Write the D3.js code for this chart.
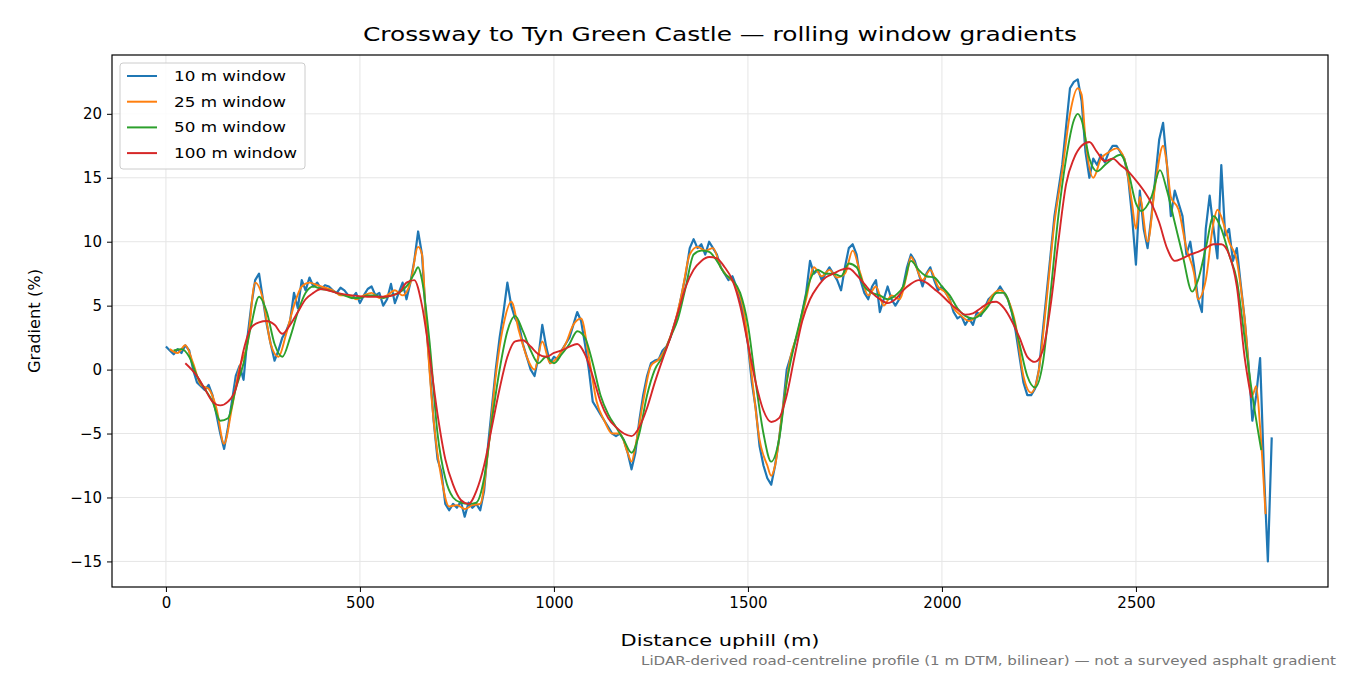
<!DOCTYPE html>
<html><head><meta charset="utf-8">
<script src="https://cdn.jsdelivr.net/npm/d3@7"></script>
<style>body{margin:0;background:#fff}text{font-family:"DejaVu Sans",sans-serif}</style>
</head><body><svg id="c" width="1350" height="675"></svg>
<script>
const xTicks=[0,500,1000,1500,2000,2500];
const yTicks=[-15,-10,-5,0,5,10,15,20];
const seriesNames=["10 m window","25 m window","50 m window","100 m window"];
const colors=["#1f77b4","#ff7f0e","#2ca02c","#d62728"];

// 10 m window: 0..2850 step 10
const w10Start=0, w10Step=10;
const w10=[1.8,1.5,1.2,1.6,1.3,1.9,1.5,0,-1.0,-1.3,-1.6,-1.2,-2.0,-3.5,-5.0,-6.2,-4.5,-2.5,-0.5,0.3,
-0.8,2.5,5,7.0,7.5,5.5,3.5,2.0,0.7,1.5,2.5,3.0,3.8,6.0,4.8,7.0,6.2,7.2,6.5,6.8,
6.3,6.6,6.5,6.2,6.0,6.4,6.2,5.8,5.6,6.0,5.2,5.8,6.3,6.5,5.8,6.0,5.0,5.5,6.7,5.2,
6.0,6.8,5.5,6.8,8.5,10.8,9.0,4.0,0,-4,-7,-8,-10.5,-11.0,-10.5,-10.8,-10.3,-11.5,-10.4,-10.8,
-10.5,-11.0,-9.5,-6,-3,0,2.5,4.5,6.8,5,4.0,3.5,2.0,1.0,0.0,-0.5,1.0,3.5,1.8,0.5,
1.0,0.8,1.5,2.0,2.5,3.5,4.5,3.8,2.0,0,-2.5,-3.0,-3.5,-4.0,-4.5,-5.0,-5.2,-5.0,-5.5,-6.5,
-7.8,-6.5,-4,-2,-0.5,0.5,0.7,0.8,1.5,1.8,2.5,3.5,4.5,6.0,7.5,9.5,10.2,9.5,9.8,9.0,
10.0,9.5,9.0,8.0,7.5,7.0,7.3,6.5,5.5,4,2,-1,-3,-6,-7.5,-8.5,-9.0,-7.5,-5.5,-3,
0,1,2,3,4.5,6,8.5,7.5,7.8,7.0,7.5,8.0,7.5,7.0,6.2,8.0,9.5,9.8,9.0,7.0,
6.0,5.5,6.5,7.0,4.5,5.5,6.5,5.5,5.0,5.5,6.5,8.0,9.0,8.5,7.5,6.5,7.5,8.0,7.0,6.2,
6.5,6.0,5.5,4.5,4.0,4.2,3.5,4.0,3.5,4.5,4.2,4.8,5.5,5.8,6.0,6.5,6.0,5.5,4.5,3.0,
1.0,-1.0,-2.0,-2.0,-1.5,0,3,6,9,12,14,16,19,22,22.5,22.7,21,17,15.0,16.5,
16.0,16.8,16.2,17.0,17.5,17.5,17.0,16.5,15,12,8.2,14,11,9.5,12,15,18,19.3,16,12,
14,13,12,9,10,8,5.5,4.5,11,13.6,11,8.7,16.0,10.5,11.0,8.5,9.5,6.7,4.0,0.5,
-4.0,-2.0,0.9,-8,-15.0,-5.3];

// 25 m window
const w25X=[10,30,50,70,90,110,130,150,170,190,210,230,250,270,290,310,330,350,370,390,410,430,450,470,490,510,530,550,570,590,610,630,650,660,670,690,710,730,750,770,790,810,830,850,870,890,910,930,950,970,990,1010,1030,1050,1070,1090,1110,1130,1150,1170,1190,1200,1210,1230,1250,1270,1290,1310,1330,1350,1370,1390,1410,1430,1450,1470,1490,1510,1530,1550,1560,1570,1590,1610,1630,1650,1670,1690,1710,1730,1750,1770,1790,1810,1830,1850,1870,1890,1910,1920,1930,1950,1970,1990,2010,2030,2050,2070,2090,2110,2130,2150,2170,2190,2210,2230,2250,2270,2290,2310,2330,2350,2360,2370,2390,2410,2430,2450,2470,2490,2500,2510,2530,2550,2570,2580,2590,2610,2630,2650,2660,2680,2700,2710,2730,2740,2760,2780,2800,2810,2820,2834];
const w25=[1.6,1.3,1.9,0.5,-1.2,-1.5,-3.0,-5.8,-3.0,0.2,2.0,6.8,5.5,2.0,1.0,2.8,5.0,6.5,6.8,6.6,6.4,6.2,5.8,5.8,5.5,5.8,6.0,5.6,5.8,6.2,5.8,6.8,9.6,9.0,4.0,-4,-8.5,-10.7,-10.6,-10.9,-10.6,-10.5,-6.5,-0.5,3.5,5.3,3.0,1.0,0.0,2.2,0.5,1.0,2.0,3.5,4.0,1.0,-2.5,-4.0,-5.0,-5.0,-6.5,-7.2,-6.0,-2.5,0.3,0.8,1.8,3.5,6.0,9.0,9.6,9.3,9.5,8.0,7.2,6.5,4.5,-0.5,-5.5,-7.5,-8.3,-7.5,-3.0,1.0,3.0,5.5,8.0,7.3,7.8,7.2,7.5,9.3,7.5,5.8,6.5,5.0,5.8,5.5,7.5,8.8,8.3,7.0,7.8,6.5,6.0,4.8,4.2,3.8,4.2,4.8,5.8,6.2,5.5,3.5,-0.5,-1.8,0.0,5.5,11.5,15.5,20,22.0,21.5,18,15.0,16.5,17.0,17.3,16.5,13.0,11.0,13.5,10.0,14.5,17.5,16.0,13.5,12.5,9.5,7.5,5.5,7,11.5,12.5,11,10,8.5,4,-2,-1.3,-4.5,-11.3];

// 50 m window
const w50X=[20,40,60,80,100,120,140,160,180,200,220,240,260,280,300,320,340,360,380,400,420,440,460,480,500,520,540,560,580,600,620,640,650,660,680,700,720,740,760,780,800,820,840,860,880,900,920,940,960,980,1000,1020,1040,1060,1080,1100,1120,1140,1160,1180,1200,1220,1240,1260,1280,1300,1320,1340,1360,1380,1400,1420,1440,1460,1480,1500,1520,1540,1560,1580,1600,1620,1640,1660,1680,1700,1720,1740,1760,1780,1800,1820,1840,1860,1880,1900,1920,1940,1960,1980,2000,2020,2040,2060,2080,2100,2120,2140,2160,2180,2200,2220,2240,2260,2280,2300,2320,2340,2350,2360,2380,2400,2420,2440,2460,2480,2500,2514,2540,2562,2580,2600,2620,2645,2660,2680,2700,2720,2740,2760,2780,2800,2823];
const w50=[1.5,1.6,1.0,-0.5,-1.5,-2.5,-4.0,-3.8,-1.5,0.5,3.5,5.7,4.5,2.0,1.0,2.5,4.5,6.0,6.5,6.3,6.2,6.0,5.8,5.6,5.6,5.8,5.8,5.6,5.8,6.0,6.5,7.5,8.0,7.0,2,-5,-8.5,-10,-10.4,-10.5,-10.4,-8.5,-4,0,3.0,4.2,3.0,1.5,0.5,1.0,0.5,1.2,2.0,3.0,2.5,0.5,-2.0,-3.5,-4.5,-5.5,-6.5,-5,-2,0,1.0,2.5,4.0,6.5,9.0,9.3,9.2,8.5,7.5,7.0,6.0,3.5,-1,-5,-7.2,-5.5,-1,2,4.5,7.0,7.8,7.5,7.5,7.3,8.3,8.0,6.5,6.0,5.8,5.5,5.8,6.5,8.5,7.8,7.3,7.2,6.5,5.8,4.8,4.2,4.0,4.3,5.0,6.0,6.0,4.5,2.0,-0.5,-1.4,0.5,6,12,16.5,19.5,20.0,19.5,16.5,15.5,16.0,16.5,16.8,15.5,13.0,12.4,13.5,15.6,14.0,11.5,9,6.1,7,9.5,12.0,11,9.0,7.0,2.5,-2,-6.3];

// 100 m window
const w100X=[50,80,100,120,140,160,180,200,220,240,260,280,300,320,340,360,380,400,440,480,520,560,600,620,640,660,680,700,720,740,760,780,800,820,840,860,880,900,920,940,960,980,1000,1020,1040,1060,1080,1100,1120,1140,1160,1180,1200,1220,1240,1260,1280,1300,1320,1340,1360,1380,1400,1420,1440,1460,1480,1500,1520,1540,1560,1580,1600,1620,1640,1660,1680,1700,1720,1740,1760,1780,1800,1820,1840,1860,1880,1900,1920,1940,1960,1980,2000,2020,2040,2060,2080,2100,2120,2140,2160,2180,2200,2220,2240,2260,2280,2300,2320,2340,2360,2380,2400,2420,2440,2460,2480,2500,2520,2540,2560,2580,2600,2620,2640,2660,2680,2700,2720,2740,2760,2780,2797];
const w100=[0.5,-0.5,-1.5,-2.5,-2.8,-2.5,-1.5,1.5,3.3,3.7,3.8,3.5,2.8,3.5,4.5,5.5,6.0,6.3,6.0,5.8,5.7,5.7,6.0,6.8,7.0,5.0,1.0,-3.5,-7,-9.0,-10.2,-10.5,-9.5,-7.5,-4.5,-1.5,1.0,2.2,2.3,1.8,1.2,1.0,1.3,1.5,1.8,2.0,1.2,-0.5,-2.5,-3.8,-4.5,-5.0,-5.2,-4.5,-3.0,-1.0,0.8,2.5,4.5,6.5,7.8,8.5,8.8,8.7,8.0,7.0,5.0,2.0,-1.0,-3.2,-4.1,-3.8,-2.0,1.0,3.8,5.5,6.5,7.2,7.5,7.8,7.9,7.4,6.7,6.0,5.5,5.2,5.5,6.2,6.7,7.0,6.8,6.3,5.8,5.2,4.7,4.3,4.4,4.8,5.2,5.3,4.8,3.8,2.5,1.0,0.6,1.5,5,10,14.5,16.5,17.5,17.8,17.0,16.3,16.5,16.0,15.5,14.8,14.0,13.0,11.5,9.5,8.5,8.7,9.0,9.2,9.5,9.8,9.8,9.0,6.5,1.0,-2.2];

const W=1350,H=675, m={l:112,r:1328,t:55,b:587};
const svg=d3.select("#c");
const x=d3.scaleLinear().domain([-139,2995]).range([m.l,m.r]);
const y=d3.scaleLinear().domain([-17.0,24.6]).range([m.b,m.t]);

const g=svg.append("g");
g.selectAll(".gx").data(xTicks).join("line").attr("x1",d=>x(d)).attr("x2",d=>x(d)).attr("y1",m.t).attr("y2",m.b).attr("stroke","#e6e6e6").attr("stroke-width",1);
g.selectAll(".gy").data(yTicks).join("line").attr("y1",d=>y(d)).attr("y2",d=>y(d)).attr("x1",m.l).attr("x2",m.r).attr("stroke","#e6e6e6").attr("stroke-width",1);

const datasets=[
 w10.map((v,i)=>[w10Start+i*w10Step,v]),
 w25.map((v,i)=>[w25X[i],v]),
 w50.map((v,i)=>[w50X[i],v]),
 w100.map((v,i)=>[w100X[i],v])
];
const curves=[d3.curveLinear,d3.curveMonotoneX,d3.curveMonotoneX,d3.curveMonotoneX];
datasets.forEach((ds,i)=>{
 const line=d3.line().x(d=>x(d[0])).y(d=>y(d[1])).curve(curves[i]);
 svg.append("path").datum(ds).attr("d",line).attr("fill","none").attr("stroke",colors[i]).attr("stroke-width",i==0?2.2:1.9).attr("stroke-linejoin","round");
});

const xa=svg.append("g").attr("transform",`translate(0,${m.b})`).call(d3.axisBottom(x).tickValues(xTicks).tickSize(5).tickPadding(5).tickFormat(d3.format("d")));
const ya=svg.append("g").attr("transform",`translate(${m.l},0)`).call(d3.axisLeft(y).tickValues(yTicks).tickSize(5).tickPadding(5).tickFormat(d=>d<0?"\u2212"+Math.abs(d):d));
[xa,ya].forEach(a=>{a.select(".domain").remove();a.selectAll("text").attr("font-size",15).attr("fill","#000").attr("font-family","DejaVu Sans");a.selectAll("line").attr("stroke","#000");});
svg.append("rect").attr("x",m.l).attr("y",m.t).attr("width",m.r-m.l).attr("height",m.b-m.t).attr("fill","none").attr("stroke","#000").attr("stroke-width",1.2);

function txt(s,xx,yy,size,len,anchor){
 return svg.append("text").attr("x",xx).attr("y",yy).attr("text-anchor",anchor||"middle").attr("font-size",size)
  .attr("textLength",len).attr("lengthAdjust","spacingAndGlyphs").text(s);
}
txt("Crossway to Tyn Green Castle \u2014 rolling window gradients",720,41,20,714);
txt("Distance uphill (m)",720,646,16.5,199);
svg.append("text").attr("transform","translate(40,321) rotate(-90)").attr("text-anchor","middle").attr("font-size",16.5).attr("textLength",104).attr("lengthAdjust","spacingAndGlyphs").text("Gradient (%)");
txt("LiDAR-derived road-centreline profile (1 m DTM, bilinear) \u2014 not a surveyed asphalt gradient",1336,665,12,695,"end").attr("fill","#777");

const lg=svg.append("g");
lg.append("rect").attr("x",120).attr("y",63).attr("width",185).attr("height",106).attr("rx",3).attr("fill","#fff").attr("fill-opacity",0.85).attr("stroke","#ccc");
const legLens=[112,112,112,123];
seriesNames.forEach((n,i)=>{
 const yy=76+i*25.7;
 lg.append("line").attr("x1",127).attr("x2",157).attr("y1",yy).attr("y2",yy).attr("stroke",colors[i]).attr("stroke-width",2);
 lg.append("text").attr("x",174).attr("y",yy+5).attr("font-size",14.5).attr("textLength",legLens[i]).attr("lengthAdjust","spacingAndGlyphs").text(n);
});
</script></body></html>
